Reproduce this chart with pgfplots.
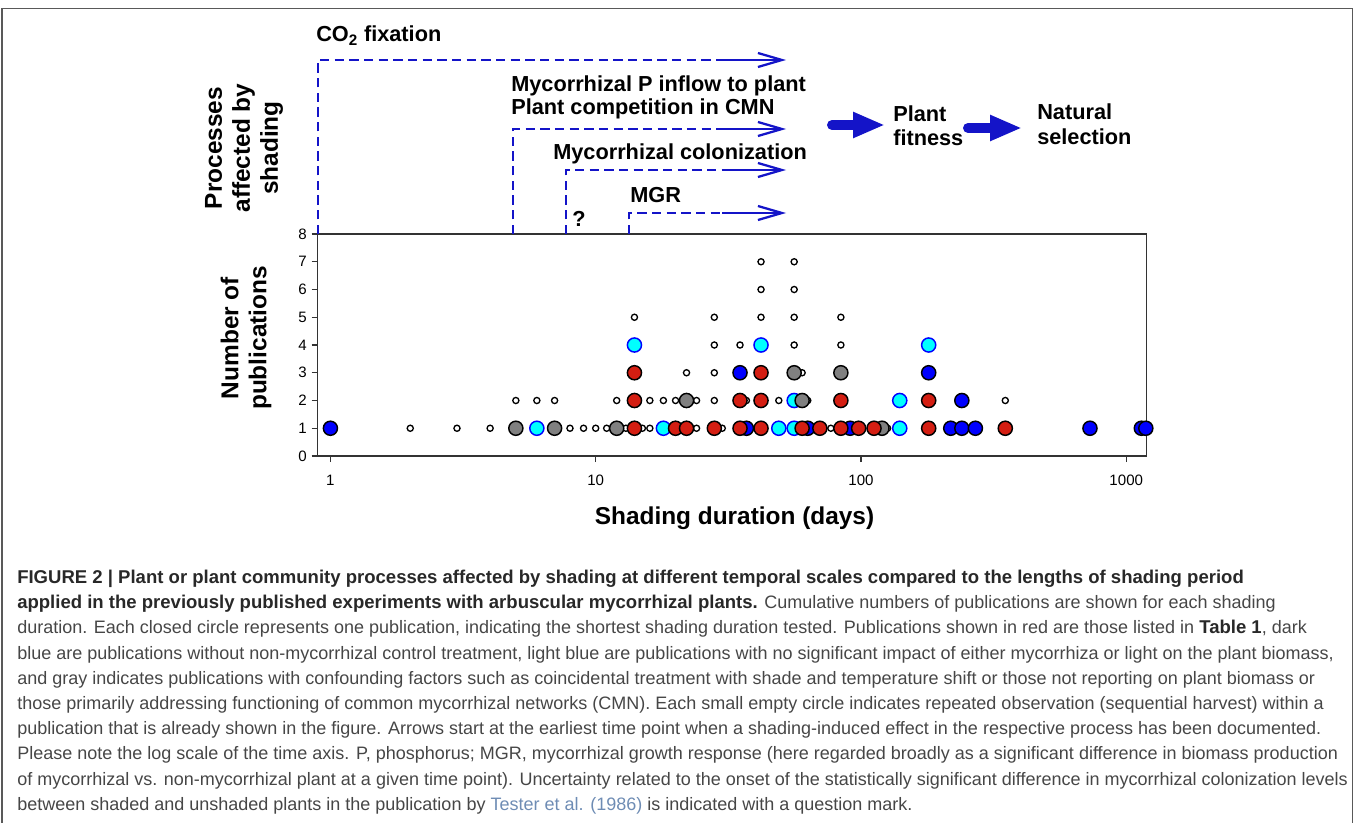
\documentclass[border=0pt]{standalone}
\usepackage{fontspec}
\setmainfont{Liberation Sans}
\usepackage{pgfplots}
\pgfplotsset{compat=1.18}
\usetikzlibrary{arrows.meta}
\definecolor{dred}{RGB}{212,30,18}
\definecolor{dblue}{RGB}{0,0,255}
\definecolor{lcyan}{RGB}{0,255,255}
\definecolor{mgray}{RGB}{128,128,128}
\definecolor{arrblue}{RGB}{20,20,200}
\definecolor{capgray}{RGB}{70,70,70}
\definecolor{capbold}{RGB}{40,40,40}
\definecolor{linkblue}{RGB}{110,140,180}
\newcommand{\bigf}{\fontsize{16.3}{21}\selectfont\bfseries}
\newcommand{\labf}{\fontsize{18.3}{21}\selectfont\bfseries}
\newcommand{\capf}{\fontsize{13.5}{18}\selectfont}
\newcommand{\cb}[1]{{\fontsize{13.9}{18}\selectfont\bfseries\color{capbold}#1}}
\begin{document}
\begin{tikzpicture}
\begin{scope}[x=0.75pt,y=-0.75pt]
\useasboundingbox (0,0) rectangle (1358,823);
\draw[line width=1.1pt, black!65] (2,823) -- (2,8.5) -- (1352.5,8.5) -- (1352.5,823);
\end{scope}

\begin{axis}[
  at={(238.125pt,-342pt)}, anchor=south west,
  width=621.8pt, height=166.5pt, scale only axis,
  xmode=log, xmin=0.894, xmax=1193, ymin=0, ymax=8,
  xtick={1,10,100,1000}, xticklabels={1,10,100,1000},
  xminorticks=false,
  ytick={0,1,2,3,4,5,6,7,8},
  xtick pos=left, ytick pos=left,
  tick align=outside, major tick length=4.5pt,
  axis line style={black!80, line width=0.9pt},
  tick style={black!80, line width=0.9pt},
  /pgf/number format/assume math mode=true,
  ticklabel style={font=\fontsize{11.3}{13}\selectfont},
  xticklabel style={yshift=-6.5pt},
  clip=false,
]
% repeated observations (small empty circles)
\addplot[only marks, mark=*, mark size=2.3pt, mark options={fill=white, draw=black, line width=1pt}] table {
x y
2 1
3 1
4 1
8 1
9 1
10 1
11 1
13 1
15 1
16 1
24 1
30 1
77 1
126 1
5 2
6 2
7 2
12 2
16 2
18 2
20 2
24 2
28 2
37 2
49 2
63 2
350 2
22 3
28 3
60 3
28 4
35 4
56 4
84 4
14 5
28 5
42 5
56 5
84 5
42 6
56 6
42 7
56 7
};
% dark blue: no non-mycorrhizal control
\addplot[only marks, mark=*, mark size=5.3pt, mark options={fill=dblue, draw=black, line width=1.1pt}] table {
x y
1 1
37 1
63 1
91 1
35 3
218 1
240 1
270 1
240 2
180 3
730 1
1140 1
1185 1
};
% light blue: no significant impact
\addplot[only marks, mark=*, mark size=5.3pt, mark options={fill=lcyan, draw=dblue, line width=1.1pt}] table {
x y
6 1
14 4
18 1
42 4
49 1
56 1
56 2
140 1
140 2
180 4
};
% gray: confounding factors
\addplot[only marks, mark=*, mark size=5.3pt, mark options={fill=mgray, draw=black, line width=1.1pt}] table {
x y
5 1
7 1
12 1
22 2
56 3
60 2
84 3
120 1
};
% red: listed in Table 1
\addplot[only marks, mark=*, mark size=5.3pt, mark options={fill=dred, draw=black, line width=1.1pt}] table {
x y
14 1
14 2
14 3
20 1
22 1
28 1
35 1
35 2
42 1
42 2
42 3
60 1
70 1
84 1
84 2
98 1
112 1
180 1
180 2
350 1
};
\end{axis}

\begin{scope}[x=0.75pt,y=-0.75pt]
% axis labels
\node[anchor=base, inner sep=0, font=\labf] at (734.5,524) {Shading duration (days)};
\node[rotate=90, align=center, font=\labf] at (246,338) {Number of\\publications};
\node[rotate=90, align=center, font=\labf] at (244,148) {Processes\\affected by\\shading};

% process arrows
\tikzset{dsh/.style={arrblue, line width=1.7pt, dash pattern=on 7pt off 4pt},
         sol/.style={arrblue, line width=1.7pt, -{Straight Barb[length=18pt,width=10.5pt]}}}
\draw[dsh] (318,234) -- (318,60) -- (722,60);
\draw[sol] (722,60) -- (786,60);
\draw[dsh] (513.3,234) -- (513.3,129) -- (722,129);
\draw[sol] (722,129) -- (786,129);
\draw[dsh] (565.7,234) -- (565.7,170) -- (722,170);
\draw[sol] (722,170) -- (786,170);
\draw[dsh] (629,234) -- (629,213) -- (722,213);
\draw[sol] (722,213) -- (786,213);

\node[anchor=base west, inner sep=0, font=\bigf] at (316,41.7) {CO\textsubscript{2} fixation};
\node[anchor=base west, inner sep=0, font=\bigf] at (511,92) {Mycorrhizal P inflow to plant};
\node[anchor=base west, inner sep=0, font=\bigf] at (511,115) {Plant competition in CMN};
\node[anchor=base west, inner sep=0, font=\bigf] at (553,160) {Mycorrhizal colonization};
\node[anchor=base west, inner sep=0, font=\bigf] at (630,203) {MGR};
\node[anchor=base west, inner sep=0, font=\bigf] at (572,227) {?};

\draw[arrblue, line width=7.5pt, line cap=round, -{Triangle[length=24pt,width=18pt]}] (832,125) -- (885,125);
\draw[arrblue, line width=7.5pt, line cap=round, -{Triangle[length=24pt,width=18pt]}] (968,128) -- (1022,128);
\node[anchor=base west, inner sep=0, font=\bigf] at (893,122) {Plant};
\node[anchor=base west, inner sep=0, font=\bigf] at (893,146) {fitness};
\node[anchor=base west, inner sep=0, font=\bigf] at (1037,120) {Natural};
\node[anchor=base west, inner sep=0, font=\bigf] at (1037,145) {selection};

% caption
\begin{scope}[every node/.style={anchor=base west, inner sep=0, font=\capf, text=capgray}]
\node at (17,583.5) {\cb{FIGURE 2 | Plant or plant community processes affected by shading at different temporal scales compared to the lengths of shading period}};
\node at (17,608.7) {\cb{applied in the previously published experiments with arbuscular mycorrhizal plants.} Cumulative numbers of publications are shown for each shading};
\node at (17,633.9) {duration. Each closed circle represents one publication, indicating the shortest shading duration tested. Publications shown in red are those listed in \cb{Table 1}, dark};
\node at (17,659.1) {blue are publications without non-mycorrhizal control treatment, light blue are publications with no significant impact of either mycorrhiza or light on the plant biomass,};
\node at (17,684.3) {and gray indicates publications with confounding factors such as coincidental treatment with shade and temperature shift or those not reporting on plant biomass or};
\node at (17,709.5) {those primarily addressing functioning of common mycorrhizal networks (CMN). Each small empty circle indicates repeated observation (sequential harvest) within a};
\node at (17,734.7) {publication that is already shown in the figure. Arrows start at the earliest time point when a shading-induced effect in the respective process has been documented.};
\node at (17,759.9) {Please note the log scale of the time axis. P, phosphorus; MGR, mycorrhizal growth response (here regarded broadly as a significant difference in biomass production};
\node at (17,785.1) {of mycorrhizal vs. non-mycorrhizal plant at a given time point). Uncertainty related to the onset of the statistically significant difference in mycorrhizal colonization levels};
\node at (17,810.3) {between shaded and unshaded plants in the publication by \textcolor{linkblue}{Tester et al. (1986)} is indicated with a question mark.};
\end{scope}
\end{scope}
\end{tikzpicture}
\end{document}
